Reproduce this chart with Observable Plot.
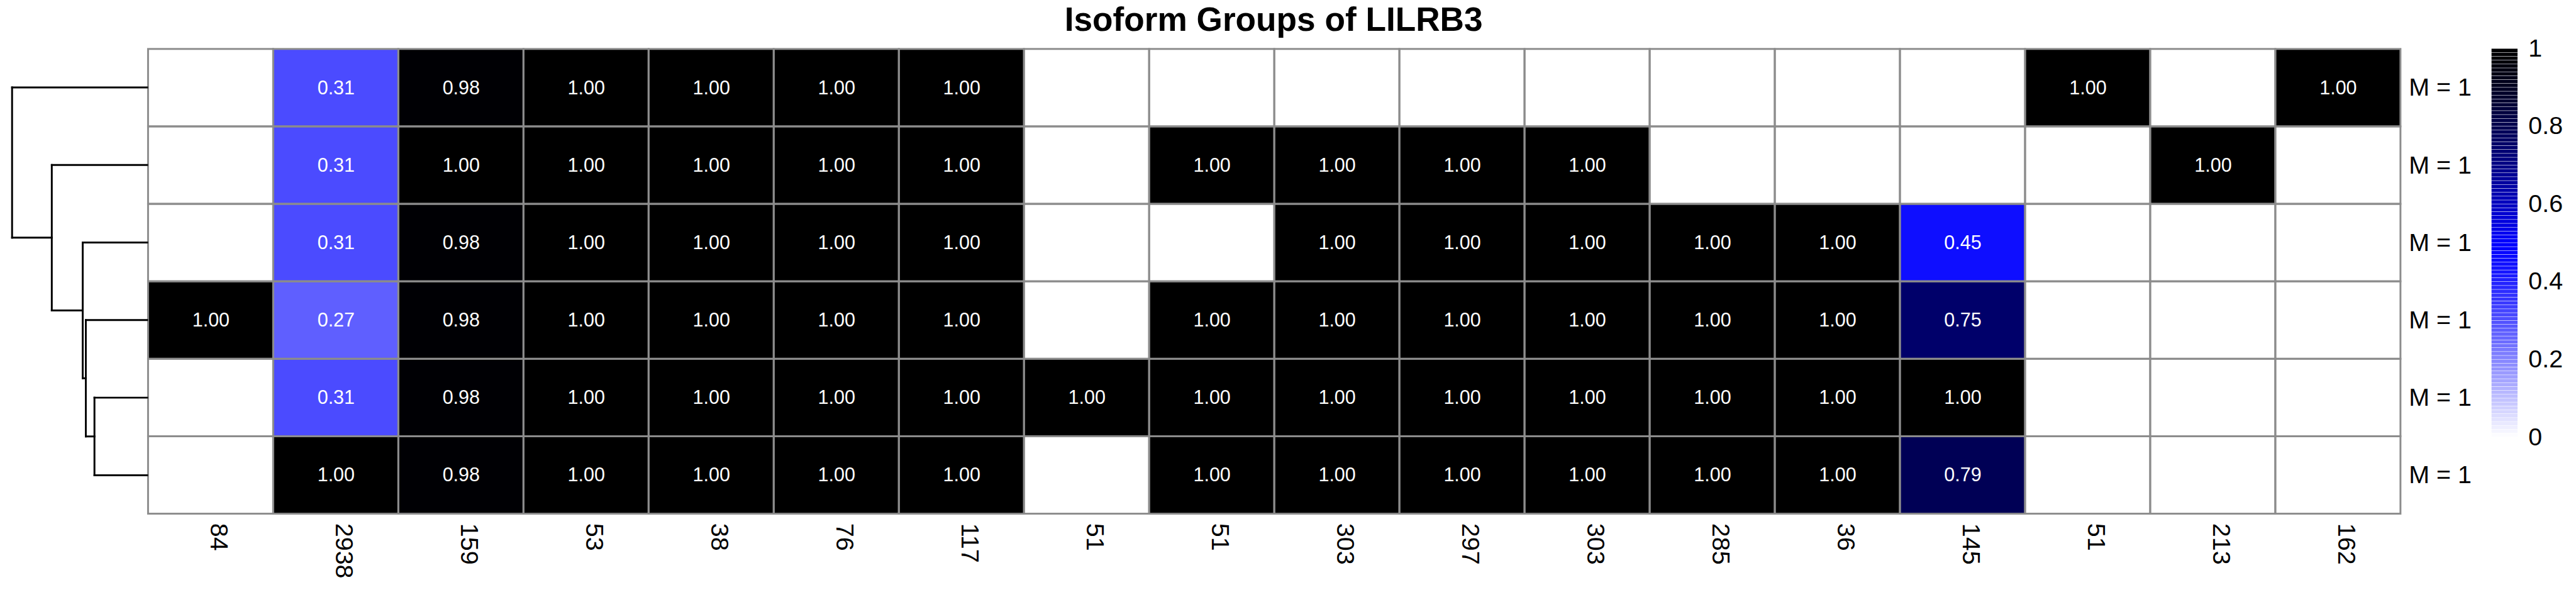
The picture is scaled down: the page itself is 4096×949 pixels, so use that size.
<!DOCTYPE html>
<html>
<head>
<meta charset="utf-8">
<script src="https://cdn.jsdelivr.net/npm/d3@7"></script>
<script src="https://cdn.jsdelivr.net/npm/@observablehq/plot@0.6"></script>
<style>
html, body { margin: 0; padding: 0; background: #ffffff; overflow: hidden; }
#wrap { position: relative; width: 4157px; height: 963px; transform: scale(0.985); transform-origin: 0 0;
        font-family: "Liberation Sans", Arial, Helvetica, sans-serif; }
#wrap > svg { position: absolute; left: 0; top: 0; background: transparent; }
#title { position: absolute; left: 2056px; top: 4px; transform: translateX(-50%); white-space: nowrap;
         font-size: 54px; line-height: 54px; font-weight: bold; color: #000; }
</style>
</head>
<body>
<div id="wrap"><div id="title">Isoform Groups of LILRB3</div></div>
<script>
// ---- data ----
const columnLabels = ["84", "2938", "159", "53", "38", "76", "117", "51", "51", "303", "297", "303", "285", "36", "145", "51", "213", "162"];
const rowLabels = ["M = 1", "M = 1", "M = 1", "M = 1", "M = 1", "M = 1"];
const row1 = [null, 0.31, 0.98, 1, 1, 1, 1, null, null, null, null, null, null, null, null, 1, null, 1];
const row2 = [null, 0.31, 1, 1, 1, 1, 1, null, 1, 1, 1, 1, null, null, null, null, 1, null];
const row3 = [null, 0.31, 0.98, 1, 1, 1, 1, null, null, 1, 1, 1, 1, 1, 0.45, null, null, null];
const row4 = [1, 0.27, 0.98, 1, 1, 1, 1, null, 1, 1, 1, 1, 1, 1, 0.75, null, null, null];
const row5 = [null, 0.31, 0.98, 1, 1, 1, 1, 1, 1, 1, 1, 1, 1, 1, 1, null, null, null];
const row6 = [null, 1, 0.98, 1, 1, 1, 1, null, 1, 1, 1, 1, 1, 1, 0.79, null, null, null];
const rowValues = [row1, row2, row3, row4, row5, row6];

// dendrogram merges (children: leaf row index or node id), heights relative to root
const dendroIds     = ["D", "C", "B", "A", "root"];
const dendroLeft    = [4, 3, 2, 1, 0];
const dendroRight   = [5, "D", "C", "B", "A"];
const dendroHeights = [0.39, 0.454, 0.477, 0.706, 1];

const legendTicks = [0, 0.2, 0.4, 0.6, 0.8, 1];

// ---- layout (reference pixels; wrapper scaled 0.985) ----
const W = 4157, H = 963;
const L = 237, R = 3876, T = 78, B = 829;
const FONT = '"Liberation Sans", Arial, Helvetica, sans-serif';
const colorOpts = {type: "linear", domain: [0, 0.5, 1], range: ["#ffffff", "#0000ff", "#000000"],
                   interpolate: d3.interpolateRgb.gamma(0.79)};
const wrap = document.getElementById("wrap");

const cells = [];
rowValues.forEach((vals, r) => vals.forEach((v, c) => cells.push({r, c, v})));
const filled = cells.filter(d => d.v != null);

const main = Plot.plot({
  width: W, height: H,
  marginLeft: L, marginRight: W - R, marginTop: T, marginBottom: H - B,
  x: {type: "band", domain: d3.range(columnLabels.length), padding: 0, axis: null},
  y: {type: "band", domain: d3.range(rowLabels.length), padding: 0, axis: null},
  color: colorOpts,
  style: {fontFamily: FONT, background: "transparent", overflow: "visible"},
  marks: [
    Plot.cell(cells, {x: "c", y: "r", fill: "#ffffff"}),
    Plot.cell(filled, {x: "c", y: "r", fill: "v"}),
    Plot.cell(cells, {x: "c", y: "r", fill: "none", stroke: "#8c8c8c", strokeWidth: 3}),
    Plot.text(filled, {x: "c", y: "r", text: d => d.v.toFixed(2), fill: "white", fontSize: 31}),
    Plot.text(columnLabels.map((label, i) => ({label, i})), {
      x: "i", frameAnchor: "bottom", text: "label", rotate: 90, textAnchor: "start",
      dy: 15, fontSize: 40, fill: "black"
    }),
    Plot.text(rowLabels.map((label, i) => ({label, i})), {
      y: "i", frameAnchor: "right", text: "label", textAnchor: "start", dx: 12, fontSize: 40, fill: "black"
    })
  ]
});
wrap.appendChild(main);

// ---- dendrogram ----
const pos = {};
for (let i = 0; i < rowLabels.length; i++) pos[i] = {y: i, h: 0};
const segs = [];
dendroIds.forEach((id, k) => {
  const a = pos[dendroLeft[k]], b = pos[dendroRight[k]], h = dendroHeights[k];
  pos[id] = {y: (a.y + b.y) / 2, h};
  segs.push({x1: h, y1: a.y, x2: h, y2: b.y});
  segs.push({x1: h, y1: a.y, x2: a.h, y2: a.y});
  segs.push({x1: h, y1: b.y, x2: b.h, y2: b.y});
});
const dendro = Plot.plot({
  width: W, height: H, margin: 0,
  x: {type: "linear", domain: [0, 1], range: [L, 19], axis: null},
  y: {type: "linear", domain: [-0.5, rowLabels.length - 0.5], range: [T, B], axis: null},
  style: {background: "transparent"},
  marks: [
    Plot.link(segs, {x1: "x1", y1: "y1", x2: "x2", y2: "y2", stroke: "black", strokeWidth: 3, strokeLinecap: "square"})
  ]
});
wrap.appendChild(dendro);

// ---- color legend ----
const legendSteps = d3.range(100).map(i => i / 100);
const legend = Plot.plot({
  width: W, height: H,
  marginLeft: 4022, marginRight: W - 4064, marginTop: T, marginBottom: H - 705,
  y: {type: "linear", domain: [0, 1], axis: null},
  color: colorOpts,
  style: {fontFamily: FONT, background: "transparent", overflow: "visible"},
  marks: [
    Plot.rect(legendSteps, {y1: d => d, y2: d => d + 0.01, fill: d => d + 0.005, insetTop: 0.6}),
    Plot.axisY(legendTicks, {anchor: "right", tickSize: 0, tickPadding: 17, fontSize: 40,
      tickFormat: d => `${d}`, fill: "black"})
  ]
});
wrap.appendChild(legend);
</script>
</body>
</html>
